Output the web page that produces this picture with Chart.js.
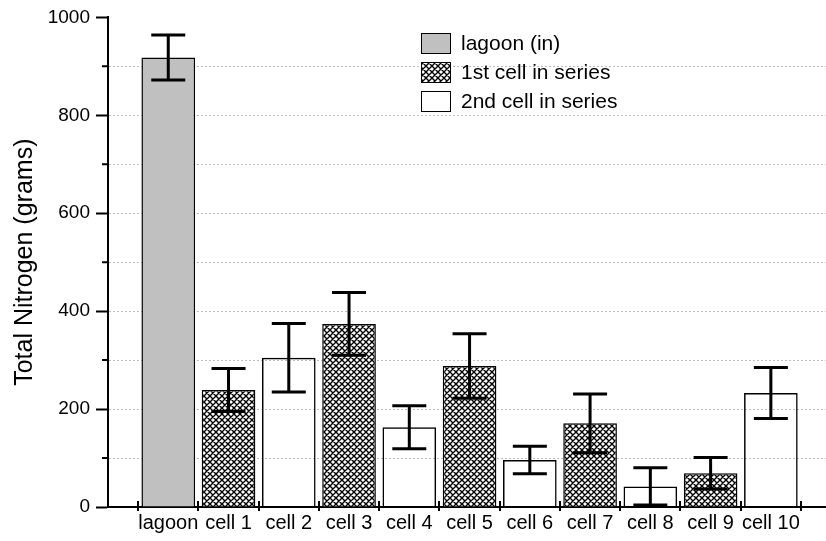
<!DOCTYPE html>
<html>
<head>
<meta charset="utf-8">
<script src="https://cdn.jsdelivr.net/npm/chart.js@4.4.1/dist/chart.umd.min.js"></script>
<style>
  body { margin: 0; background: #fff; }
</style>
</head>
<body>
<canvas id="nitrogen" width="826" height="541"></canvas>
<script>
const categories = ['lagoon', 'cell 1', 'cell 2', 'cell 3', 'cell 4', 'cell 5', 'cell 6', 'cell 7', 'cell 8', 'cell 9', 'cell 10'];
const nitrogen = [918, 239, 305, 374, 163, 288, 96, 171, 42, 69, 233];
const errors = [46, 44, 70, 64, 44, 66, 28, 60, 38, 32, 52];
// 0 = lagoon, 1 = first cell in series, 2 = second cell in series
const groups = [0, 1, 2, 1, 2, 1, 2, 1, 2, 1, 2];
const seriesNames = ['lagoon (in)', '1st cell in series', '2nd cell in series'];
const yLabels = [0, 200, 400, 600, 800, 1000];
const yMinor = [0, 100, 200, 300, 400, 500, 600, 700, 800, 900, 1000];

const FONT = 'Arial, "Liberation Sans", sans-serif';

// crosshatch fill for the 1st cell bars
function crosshatch() {
  const c = document.createElement('canvas');
  c.width = 6; c.height = 6;
  const g = c.getContext('2d');
  g.fillStyle = '#fff';
  g.fillRect(0, 0, 6, 6);
  g.strokeStyle = '#000';
  g.lineWidth = 1.4;
  g.beginPath();
  for (let k = -6; k <= 6; k += 6) {
    g.moveTo(k - 1, -1); g.lineTo(k + 7, 7);
    g.moveTo(k - 1, 7); g.lineTo(k + 7, -1);
  }
  g.stroke();
  return g.createPattern(c, 'repeat');
}

const ctx = document.getElementById('nitrogen').getContext('2d');
const fills = ['#c0c0c0', crosshatch(), 'rgba(255,255,255,0)'];
const swatches = ['#c0c0c0', fills[1], '#fff'];

const datasets = seriesNames.map((name, k) => ({
  label: name,
  data: categories.map((c, i) => i).filter(i => groups[i] === k)
    .map(i => ({ x: i, y: nitrogen[i], err: errors[i] })),
  backgroundColor: fills[k],
  borderColor: '#000',
  borderWidth: 1.5,
  grouped: false,
  categoryPercentage: 1,
  barPercentage: 0.89
}));

// error bars drawn over the bars
const errorBars = {
  id: 'errorBars',
  afterDatasetsDraw(chart) {
    const c = chart.ctx, y = chart.scales.y;
    c.save();
    c.strokeStyle = '#000';
    c.lineWidth = 3;
    chart.data.datasets.forEach((ds, d) => {
      chart.getDatasetMeta(d).data.forEach((bar, j) => {
        const p = ds.data[j];
        const hi = y.getPixelForValue(p.y + p.err);
        const lo = y.getPixelForValue(p.y - p.err);
        c.beginPath();
        c.moveTo(bar.x, hi); c.lineTo(bar.x, lo);
        c.moveTo(bar.x - 17, hi); c.lineTo(bar.x + 17, hi);
        c.moveTo(bar.x - 17, lo); c.lineTo(bar.x + 17, lo);
        c.stroke();
      });
    });
    c.restore();
  }
};

// minor ticks on y, boundary ticks on x, and the legend box
const decorations = {
  id: 'decorations',
  afterDraw(chart) {
    const c = chart.ctx, x = chart.scales.x, y = chart.scales.y;
    const area = chart.chartArea;
    c.save();
    c.strokeStyle = '#000';
    c.lineWidth = 2;
    c.beginPath();
    yMinor.filter(v => !yLabels.includes(v)).forEach(v => {
      const py = y.getPixelForValue(v);
      c.moveTo(area.left - 6, py); c.lineTo(area.left, py);
    });
    for (let i = 0; i <= categories.length; i++) {
      const px = Math.round(x.getPixelForValue(i - 0.5));
      c.moveTo(px, area.bottom - 6); c.lineTo(px, area.bottom + 4);
    }
    c.stroke();

    c.font = '21px ' + FONT;
    c.textBaseline = 'middle';
    c.lineWidth = 1;
    seriesNames.forEach((name, k) => {
      const top = 33 + k * 29;
      c.fillStyle = swatches[k];
      c.fillRect(421, top, 30, 20);
      c.strokeRect(421.5, top + 0.5, 29, 20);
      c.fillStyle = '#000';
      c.fillText(name, 461, top + 11);
    });
    c.restore();
  }
};

const chart = new Chart(ctx, {
  type: 'bar',
  data: { datasets: datasets },
  options: {
    responsive: false,
    animation: false,
    layout: { padding: { top: 9, right: 0, bottom: 0, left: 0 } },
    plugins: {
      legend: { display: false },
      tooltip: { enabled: false }
    },
    scales: {
      x: {
        type: 'linear',
        offset: false,
        min: -1,
        max: 10.915,
        afterBuildTicks: s => { s.ticks = categories.map((c, i) => ({ value: i })); },
        afterFit: s => { s.height = 34; },
        ticks: {
          autoSkip: false,
          maxRotation: 0,
          padding: 4,
          color: '#000',
          font: { family: FONT, size: 20 },
          callback: v => categories[v]
        },
        grid: { display: true, offset: false, drawOnChartArea: false, drawTicks: false },
        border: { color: '#000', width: 2 }
      },
      y: {
        min: 0,
        max: 1000,
        afterBuildTicks: s => { s.ticks = yMinor.map(v => ({ value: v })); },
        afterFit: s => { s.width = 108; },
        ticks: {
          padding: 6,
          color: '#000',
          font: { family: FONT, size: 19 },
          callback: v => yLabels.includes(v) ? v : ''
        },
        grid: {
          color: c => (c.tick && c.tick.value > 0 && c.tick.value < 1000) ? '#bdbdbd' : 'rgba(0,0,0,0)',
          lineWidth: 1,
          tickLength: 12,
          tickWidth: 2,
          tickColor: c => (c.tick && yLabels.includes(c.tick.value)) ? '#000' : 'rgba(0,0,0,0)'
        },
        border: { color: '#000', width: 2, dash: [2, 2] },
        title: {
          display: true,
          text: 'Total Nitrogen (grams)',
          color: '#000',
          font: { family: FONT, size: 25 },
          padding: { top: 10, bottom: 0 }
        }
      }
    }
  },
  plugins: [errorBars, decorations]
});
</script>
</body>
</html>
